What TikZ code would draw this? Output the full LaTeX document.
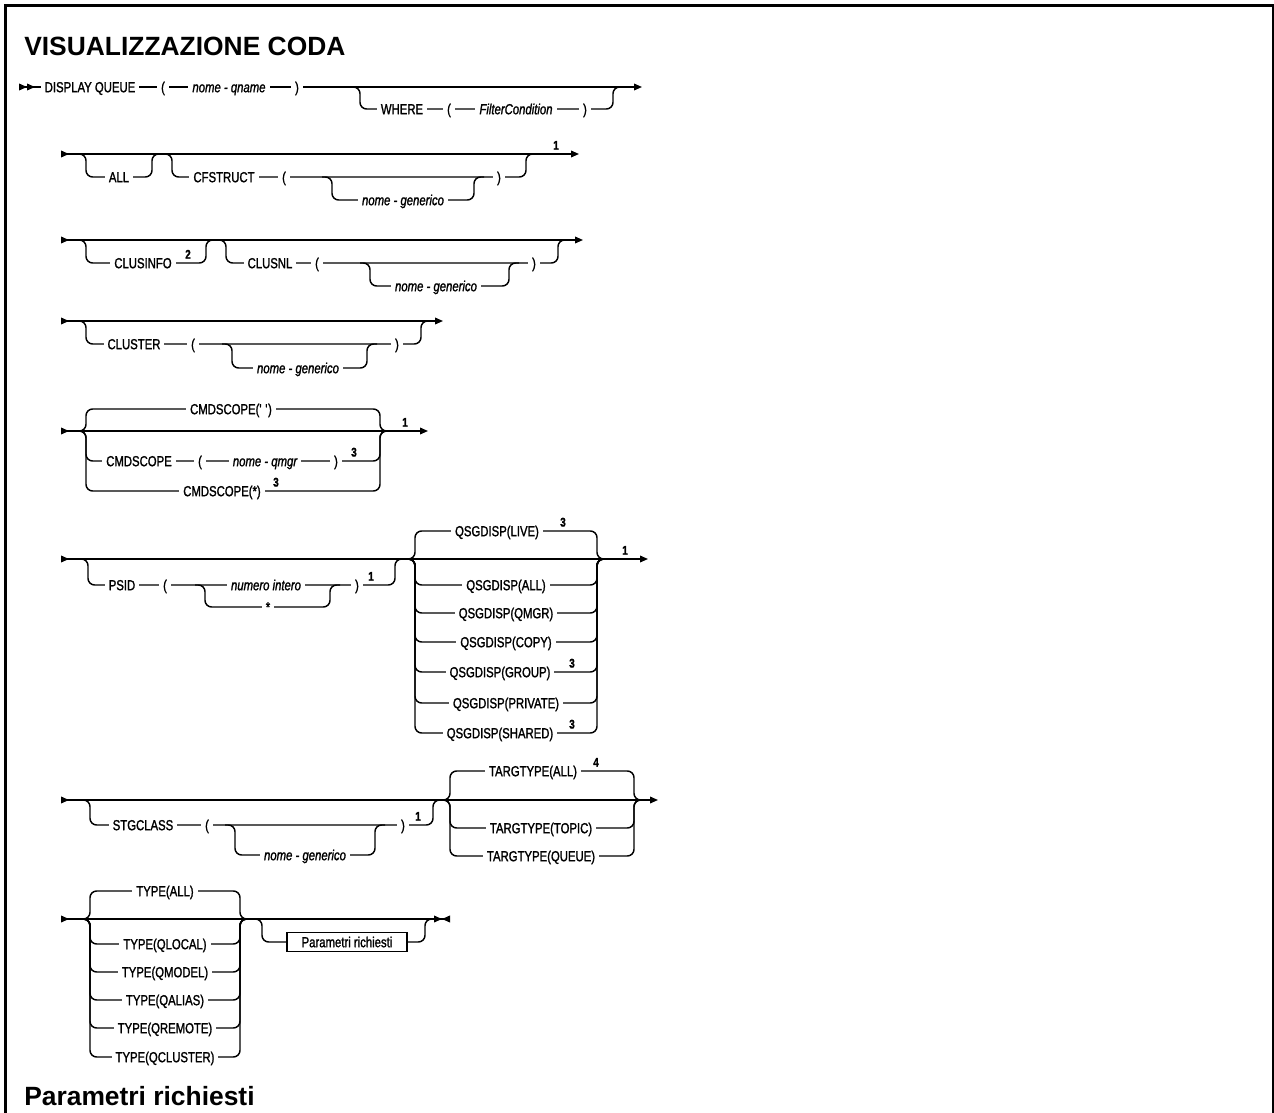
\documentclass[tikz,border=0pt]{standalone}
\usepackage{fontspec}
\setmainfont{Liberation Sans}
\newfontfamily\railfont[FakeStretch=0.78, FakeBold=1.4]{Liberation Sans}
\newcommand{\railtxt}{\railfont\fontsize{10.9}{12}\selectfont}
\newcommand{\notatxt}{\railfont\bfseries\fontsize{9.5}{10}\selectfont}
\newcommand{\titolotxt}{\bfseries\fontsize{19.8}{23}\selectfont}
\usetikzlibrary{arrows.meta}

\begin{document}
\begin{tikzpicture}[x=0.75pt, y=-0.75pt,
    rail/.style={line width=1.1pt, rounded corners=5pt},
    avvio/.style={arrows={Triangle[length=6pt,width=5pt,reversed]-Triangle[length=6pt,width=5pt]}},
    avvio1/.style={arrows={Triangle[length=6pt,width=5pt,reversed]Triangle[length=6pt,width=5pt,reversed]-Triangle[length=6pt,width=5pt]}},
    chiusura/.style={arrows={Triangle[length=6pt,width=5pt,reversed]-Triangle[length=6pt,width=5pt]Triangle[length=6pt,width=5pt,reversed]}},
    tok/.style={font=\railtxt, fill=white, inner xsep=3pt, inner ysep=1pt, text height=7.8pt, text depth=0pt},
    var/.style={tok, font=\railtxt\itshape},
    nota/.style={font=\notatxt, inner sep=0pt, anchor=south},
    riquadro/.style={tok, draw, line width=0.8pt, inner ysep=3pt, minimum width=90pt}]

    % =================================================================
    % 0. CORNICE E TITOLI
    % =================================================================
    \useasboundingbox (0,0) rectangle (1274,1113);
    \fill[white] (0,0) rectangle (1274,1113);
    \draw[line width=2pt] (5.3,1113) -- (5.3,5.3) -- (1273,5.3) -- (1273,1113);

    \node[anchor=base west, inner sep=0pt, font=\titolotxt] (titolo) at (24,56) {VISUALIZZAZIONE CODA};
    \node[anchor=base west, inner sep=0pt, font=\titolotxt] (parametri) at (24,1105) {Parametri richiesti};

    % =================================================================
    % 1. DISPLAY QUEUE ... WHERE
    % =================================================================
    \coordinate (Inizio1) at (19,87);
    \coordinate (Fine1) at (642,87);
    \draw[rail, avvio1] (Inizio1) -- (Fine1);
    \draw[rail] (350,87) -- (360,87) -- (360,109) -- (613,109) -- (613,87) -- (623,87);

    \node[tok] (dq) at (90,87) {DISPLAY QUEUE};
    \node[tok] (ap1) at (163,87) {(};
    \node[var] (qn) at (229,87) {nome - qname};
    \node[tok] (ch1) at (297,87) {)};
    \node[tok] (wh) at (402,109) {WHERE};
    \node[tok] (ap2) at (449,109) {(};
    \node[var] (fc) at (516,109) {FilterCondition};
    \node[tok] (ch2) at (585,109) {)};

    % =================================================================
    % 2. ALL, CFSTRUCT
    % =================================================================
    \coordinate (Inizio2) at (61,154);
    \coordinate (Fine2) at (579,154);
    \draw[rail, avvio] (Inizio2) -- (Fine2);
    \draw[rail] (76,154) -- (86,154) -- (86,177) -- (152,177) -- (152,154) -- (162,154);
    \draw[rail] (162,154) -- (172,154) -- (172,177) -- (526,177) -- (526,154) -- (536,154);
    \draw[rail] (322,177) -- (332,177) -- (332,200) -- (474,200) -- (474,177) -- (484,177);

    \node[tok] (all) at (119,177) {ALL};
    \node[tok] (cfs) at (224,177) {CFSTRUCT};
    \node[tok] (ap3) at (284,177) {(};
    \node[var] (gen1) at (403,200) {nome - generico};
    \node[tok] (ch3) at (499,177) {)};
    \node[nota] (n1) at (556,150) {1};

    % =================================================================
    % 3. CLUSINFO, CLUSNL
    % =================================================================
    \coordinate (Inizio3) at (61,240);
    \coordinate (Fine3) at (583,240);
    \draw[rail, avvio] (Inizio3) -- (Fine3);
    \draw[rail] (76,240) -- (86,240) -- (86,263) -- (206,263) -- (206,240) -- (216,240);
    \draw[rail] (216,240) -- (226,240) -- (226,263) -- (558,263) -- (558,240) -- (568,240);
    \draw[rail] (360,263) -- (370,263) -- (370,286) -- (509,286) -- (509,263) -- (519,263);

    \node[tok] (cli) at (143,263) {CLUSINFO};
    \node[nota] (n2) at (188,259) {2};
    \node[tok] (cln) at (270,263) {CLUSNL};
    \node[tok] (ap4) at (317,263) {(};
    \node[var] (gen2) at (436,286) {nome - generico};
    \node[tok] (ch4) at (534,263) {)};

    % =================================================================
    % 4. CLUSTER
    % =================================================================
    \coordinate (Inizio4) at (61,321);
    \coordinate (Fine4) at (443,321);
    \draw[rail, avvio] (Inizio4) -- (Fine4);
    \draw[rail] (76,321) -- (86,321) -- (86,344) -- (421,344) -- (421,321) -- (431,321);
    \draw[rail] (222,344) -- (232,344) -- (232,368) -- (367,368) -- (367,344) -- (377,344);

    \node[tok] (clu) at (134,344) {CLUSTER};
    \node[tok] (ap5) at (193,344) {(};
    \node[var] (gen3) at (298,368) {nome - generico};
    \node[tok] (ch5) at (397,344) {)};

    % =================================================================
    % 5. CMDSCOPE
    % =================================================================
    \coordinate (Inizio5) at (61,431);
    \coordinate (Fine5) at (428,431);
    \draw[rail, avvio] (Inizio5) -- (Fine5);
    \draw[rail] (76,431) -- (86,431) -- (86,409) -- (380,409) -- (380,431) -- (390,431);
    \draw[rail] (76,431) -- (86,431) -- (86,461) -- (380,461) -- (380,431) -- (390,431);
    \draw[rail] (76,431) -- (86,431) -- (86,491) -- (380,491) -- (380,431) -- (390,431);

    \node[tok] (cs1) at (231,409) {CMDSCOPE(\textquotesingle\ \textquotesingle)};
    \node[tok] (cs2) at (139,461) {CMDSCOPE};
    \node[tok] (ap6) at (200,461) {(};
    \node[var] (qm) at (265,461) {nome - qmgr};
    \node[tok] (ch6) at (336,461) {)};
    \node[nota] (n3) at (354,457) {3};
    \node[tok] (cs3) at (222,491) {CMDSCOPE(*)};
    \node[nota] (n4) at (276,487) {3};
    \node[nota] (n5) at (405,427) {1};

    % =================================================================
    % 6. PSID, QSGDISP
    % =================================================================
    \coordinate (Inizio6) at (61,559);
    \coordinate (Fine6) at (648,559);
    \draw[rail, avvio] (Inizio6) -- (Fine6);
    \draw[rail] (78,559) -- (88,559) -- (88,585) -- (395,585) -- (395,559) -- (405,559);
    \draw[rail] (195,585) -- (205,585) -- (205,607) -- (330,607) -- (330,585) -- (340,585);

    \node[tok] (psid) at (122,585) {PSID};
    \node[tok] (ap7) at (165,585) {(};
    \node[var] (ni) at (266,585) {numero intero};
    \node[tok] (ast) at (268,607) {*};
    \node[tok] (ch7) at (357,585) {)};
    \node[nota] (n6) at (371,581) {1};

    \draw[rail] (405,559) -- (415,559) -- (415,531) -- (597,531) -- (597,559) -- (607,559);
    \draw[rail] (405,559) -- (415,559) -- (415,585) -- (597,585) -- (597,559) -- (607,559);
    \draw[rail] (405,559) -- (415,559) -- (415,613) -- (597,613) -- (597,559) -- (607,559);
    \draw[rail] (405,559) -- (415,559) -- (415,642) -- (597,642) -- (597,559) -- (607,559);
    \draw[rail] (405,559) -- (415,559) -- (415,672) -- (597,672) -- (597,559) -- (607,559);
    \draw[rail] (405,559) -- (415,559) -- (415,703) -- (597,703) -- (597,559) -- (607,559);
    \draw[rail] (405,559) -- (415,559) -- (415,733) -- (597,733) -- (597,559) -- (607,559);

    \node[tok] (qlive) at (497,531) {QSGDISP(LIVE)};
    \node[nota] (n7) at (563,527) {3};
    \node[tok] (qall) at (506,585) {QSGDISP(ALL)};
    \node[tok] (qqmgr) at (506,613) {QSGDISP(QMGR)};
    \node[tok] (qcopy) at (506,642) {QSGDISP(COPY)};
    \node[tok] (qgroup) at (500,672) {QSGDISP(GROUP)};
    \node[nota] (n8) at (572,668) {3};
    \node[tok] (qpriv) at (506,703) {QSGDISP(PRIVATE)};
    \node[tok] (qshar) at (500,733) {QSGDISP(SHARED)};
    \node[nota] (n9) at (572,729) {3};
    \node[nota] (n10) at (625,555) {1};

    % =================================================================
    % 7. STGCLASS, TARGTYPE
    % =================================================================
    \coordinate (Inizio7) at (61,800);
    \coordinate (Fine7) at (658,800);
    \draw[rail, avvio] (Inizio7) -- (Fine7);
    \draw[rail] (80,800) -- (90,800) -- (90,825) -- (433,825) -- (433,800) -- (443,800);
    \draw[rail] (225,825) -- (235,825) -- (235,855) -- (375,855) -- (375,825) -- (385,825);

    \node[tok] (stg) at (143,825) {STGCLASS};
    \node[tok] (ap8) at (207,825) {(};
    \node[var] (gen4) at (305,855) {nome - generico};
    \node[tok] (ch8) at (403,825) {)};
    \node[nota] (n11) at (418,821) {1};

    \draw[rail] (440,800) -- (450,800) -- (450,771) -- (634,771) -- (634,800) -- (644,800);
    \draw[rail] (440,800) -- (450,800) -- (450,828) -- (634,828) -- (634,800) -- (644,800);
    \draw[rail] (440,800) -- (450,800) -- (450,856) -- (634,856) -- (634,800) -- (644,800);

    \node[tok] (tall) at (533,771) {TARGTYPE(ALL)};
    \node[nota] (n12) at (596,767) {4};
    \node[tok] (ttop) at (541,828) {TARGTYPE(TOPIC)};
    \node[tok] (tque) at (541,856) {TARGTYPE(QUEUE)};

    % =================================================================
    % 8. TYPE, PARAMETRI RICHIESTI
    % =================================================================
    \coordinate (Inizio8) at (61,919);
    \coordinate (Fine8) at (450,919);
    \draw[rail, avvio, chiusura] (Inizio8) -- (Fine8);
    \draw[rail] (80,919) -- (90,919) -- (90,891) -- (240,891) -- (240,919) -- (250,919);
    \draw[rail] (80,919) -- (90,919) -- (90,944) -- (240,944) -- (240,919) -- (250,919);
    \draw[rail] (80,919) -- (90,919) -- (90,972) -- (240,972) -- (240,919) -- (250,919);
    \draw[rail] (80,919) -- (90,919) -- (90,1000) -- (240,1000) -- (240,919) -- (250,919);
    \draw[rail] (80,919) -- (90,919) -- (90,1028) -- (240,1028) -- (240,919) -- (250,919);
    \draw[rail] (80,919) -- (90,919) -- (90,1057) -- (240,1057) -- (240,919) -- (250,919);
    \draw[rail] (252,919) -- (262,919) -- (262,942) -- (425,942) -- (425,919) -- (435,919);

    \node[tok] (tyall) at (165,891) {TYPE(ALL)};
    \node[tok] (tyloc) at (165,944) {TYPE(QLOCAL)};
    \node[tok] (tymod) at (165,972) {TYPE(QMODEL)};
    \node[tok] (tyali) at (165,1000) {TYPE(QALIAS)};
    \node[tok] (tyrem) at (165,1028) {TYPE(QREMOTE)};
    \node[tok] (tyclu) at (165,1057) {TYPE(QCLUSTER)};
    \node[riquadro] (parbox) at (347,942) {Parametri richiesti};

\end{tikzpicture}
\end{document}
